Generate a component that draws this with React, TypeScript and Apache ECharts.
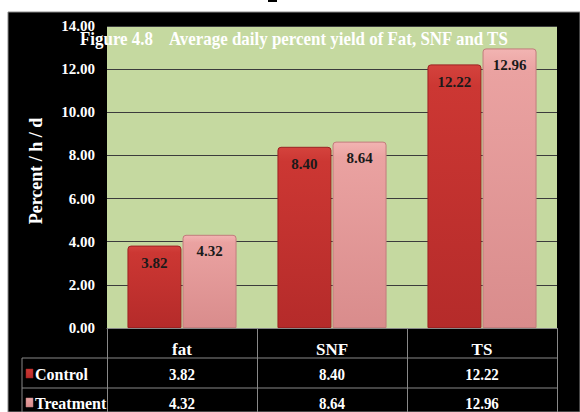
import React, { useEffect, useRef } from "react";
import * as echarts from "echarts";

const categories = ["fat", "SNF", "TS"];
const seriesNames = ["Control", "Treatment"];
const controlValues = [3.82, 8.4, 12.22];
const treatmentValues = [4.32, 8.64, 12.96];
const titleText = "Figure 4.8    Average daily percent yield of Fat, SNF and TS";
const yAxisName = "Percent / h / d";

const FONT = "'Liberation Serif', 'Times New Roman', serif";

const controlFill = () =>
  new echarts.graphic.LinearGradient(0, 0, 0, 1, [
    { offset: 0, color: "#d4433d" },
    { offset: 0.08, color: "#cc3733" },
    { offset: 1, color: "#b52b2a" },
  ]);
const treatmentFill = () =>
  new echarts.graphic.LinearGradient(0, 0, 0, 1, [
    { offset: 0, color: "#f2b4b2" },
    { offset: 0.08, color: "#eaa2a1" },
    { offset: 1, color: "#d98c8c" },
  ]);

export default function App() {
  const ref = useRef<HTMLDivElement>(null);
  useEffect(() => {
    if (!ref.current) return;
    const chart = echarts.init(ref.current, null, { renderer: "svg" });
    const grid = { left: 107, right: 23, top: 26, bottom: 84 };
    const option: any = {
      animation: false,
      backgroundColor: "#ffffff",
      grid: {
        ...grid,
        show: true,
        backgroundColor: "#c5d9a0",
        borderWidth: 0,
        z: 1,
      },
      xAxis: {
        type: "category",
        data: categories,
        axisLine: { show: true, lineStyle: { color: "#888888", width: 1 } },
        axisTick: { show: true, length: 84, lineStyle: { color: "#888888", width: 1 } },
        axisLabel: {
          color: "#ffffff",
          fontFamily: FONT,
          fontWeight: "bold",
          fontSize: 17,
          margin: 13,
        },
        z: 3,
      },
      yAxis: {
        type: "value",
        min: 0,
        max: 14,
        interval: 2,
        name: yAxisName,
        nameLocation: "middle",
        nameGap: 62,
        nameRotate: 90,
        nameTextStyle: {
          color: "#ffffff",
          fontFamily: FONT,
          fontWeight: "bold",
          fontSize: 18,
          padding: [0, 0, 0, 12],
        },
        axisLine: { show: false },
        axisTick: { show: false },
        axisLabel: {
          color: "#ffffff",
          fontFamily: FONT,
          fontWeight: "bold",
          fontSize: 15,
          margin: 12,
          formatter: (v: number) => v.toFixed(2),
        },
        splitLine: { show: true, lineStyle: { color: "#3c3c3c", width: 1 } },
        z: 3,
      },
      series: [
        {
          name: seriesNames[0],
          type: "bar",
          data: controlValues,
          barWidth: 54,
          barGap: "2%",
          z: 4,
          itemStyle: {
            color: controlFill(),
            borderColor: "#9c2222",
            borderWidth: 1,
            borderRadius: [3, 3, 0, 0],
          },
          label: {
            show: true,
            position: "insideTop",
            distance: 10,
            color: "#1a1a1a",
            fontFamily: FONT,
            fontWeight: "bold",
            fontSize: 15,
            formatter: (p: any) => Number(p.value).toFixed(2),
          },
        },
        {
          name: seriesNames[1],
          type: "bar",
          data: treatmentValues,
          barWidth: 54,
          z: 4,
          itemStyle: {
            color: treatmentFill(),
            borderColor: "#c27c7c",
            borderWidth: 1,
            borderRadius: [3, 3, 0, 0],
          },
          label: {
            show: true,
            position: "insideTop",
            distance: 9,
            color: "#1a1a1a",
            fontFamily: FONT,
            fontWeight: "bold",
            fontSize: 15,
            formatter: (p: any) => Number(p.value).toFixed(2),
          },
        },
      ],
    };
    chart.setOption(option);

    const xs = categories.map((c) => chart.convertToPixel({ xAxisIndex: 0 }, c) as number);
    const rowsY = [374, 403];
    const rowValues = [controlValues, treatmentValues];
    const fills = [controlFill, treatmentFill];
    const graphic: any[] = [
      {
        type: "rect",
        z: -10,
        silent: true,
        shape: { x: 8, y: 12, width: 572, height: 400 },
        style: { fill: "#000000", stroke: "#8a8a8a", lineWidth: 1 },
      },
      {
        type: "rect",
        z: -9,
        silent: true,
        shape: { x: 268, y: 0, width: 9, height: 2 },
        style: { fill: "#000000" },
      },
      {
        type: "text",
        z: 10,
        x: 80,
        y: 39,
        scaleX: 0.94,
        style: {
          text: titleText,
          fill: "#ffffff",
          font: `bold 18px ${FONT}`,
          textVerticalAlign: "middle",
        },
      },
      {
        type: "line",
        z: 10,
        shape: { x1: 22, y1: 358, x2: 557, y2: 358 },
        style: { stroke: "#888888", lineWidth: 1 },
      },
      {
        type: "line",
        z: 10,
        shape: { x1: 22, y1: 388, x2: 557, y2: 388 },
        style: { stroke: "#888888", lineWidth: 1 },
      },
      {
        type: "line",
        z: 10,
        shape: { x1: 22, y1: 358, x2: 22, y2: 412 },
        style: { stroke: "#888888", lineWidth: 1 },
      },
    ];
    seriesNames.forEach((name, r) => {
      graphic.push({
        type: "rect",
        z: 10,
        shape: { x: 26, y: rowsY[r] - 5, width: 7, height: 9 },
        style: { fill: fills[r](), stroke: r === 0 ? "#9c2222" : "#c27c7c", lineWidth: 0.5 },
      });
      graphic.push({
        type: "text",
        z: 10,
        x: 35,
        y: rowsY[r],
        scaleY: 1.1,
        style: {
          text: name,
          fill: "#ffffff",
          font: `bold 16px ${FONT}`,
          textVerticalAlign: "middle",
        },
      });
      rowValues[r].forEach((v, i) => {
        graphic.push({
          type: "text",
          z: 10,
          x: xs[i],
          y: rowsY[r],
          scaleY: 1.12,
          style: {
            text: v.toFixed(2),
            fill: "#ffffff",
            font: `bold 15px ${FONT}`,
            textAlign: "center",
            textVerticalAlign: "middle",
          },
        });
      });
    });
    chart.setOption({ graphic });

    return () => chart.dispose();
  }, []);
  return (
    <div
      ref={ref}
      style={{ position: "absolute", left: 0, top: 0, width: 580, height: 412 }}
    />
  );
}
